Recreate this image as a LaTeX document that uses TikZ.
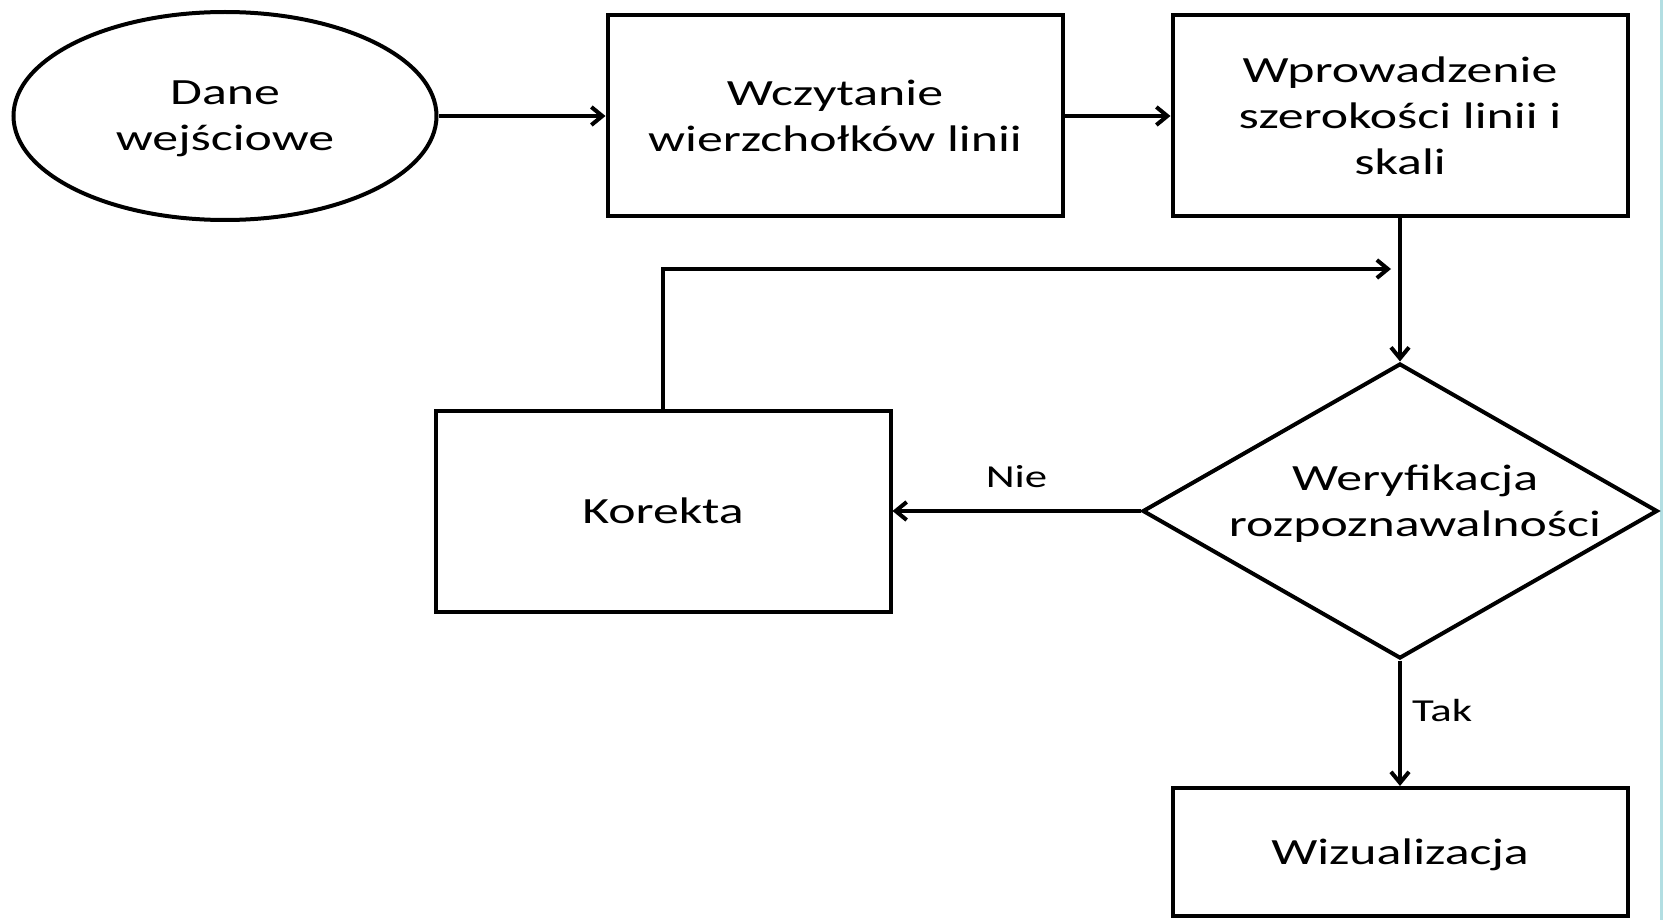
\documentclass[tikz,border=0pt]{standalone}
\usepackage{fontspec}
\setmainfont{Carlito}[FakeStretch=1.40]
\usetikzlibrary{shapes.geometric,arrows.meta}
\definecolor{edgeteal}{RGB}{178,222,226}
\tikzset{
  every node/.style={font=\fontsize{37}{46}\selectfont, align=center, inner sep=0pt},
  boxnode/.style={draw, rectangle, line width=4pt, minimum width=455pt, minimum height=201pt},
  ovalnode/.style={draw, ellipse, line width=4pt, minimum width=423pt, minimum height=208pt},
  dianode/.style={draw, diamond, line width=4pt, minimum width=515pt, minimum height=295pt},
  conn/.style={line width=4pt, -{Straight Barb[length=11pt,width=18pt,line width=4pt]}},
  lbl/.style={font=\fontsize{32}{40}\selectfont}
}
\begin{document}
\begin{tikzpicture}[x=1pt,y=-1pt]
\useasboundingbox (0,0) rectangle (1663,920);
\fill[white] (0,0) rectangle (1663,920);
\fill[edgeteal] (1660,0) rectangle (1663,920);

\node[ovalnode] (dane) at (225,116) {};
\node (danet) at (225,119) {Dane\\wejściowe};
\node[boxnode] (wcz) at (835,116) {Wczytanie\\wierzchołków linii};
\node[boxnode] (wpr) at (1400,116) {Wprowadzenie\\szerokości linii i\\skali};
\node[dianode] (wer) at (1400,511) {};
\node (wert) at (1415,504) {Weryfikacja\\rozpoznawalności};
\node[boxnode] (kor) at (663,511) {Korekta};
\node[boxnode, minimum height=128pt, text depth=0pt] (wiz) at (1400,852) {Wizualizacja};
\coordinate (fb) at (1391,269);

\draw[conn] (dane.east) -- (wcz.west);
\draw[conn] (wcz.east) -- (wpr.west);
\draw[conn] (wpr.south) -- (wer.north);
\draw[conn] (wer.west) -- node[lbl, above=21pt] (nie) {Nie} (kor.east);
\draw[conn] (wer.south) -- node[lbl, right=10pt, pos=0.4] (tak) {Tak} (wiz.north);
\draw[conn] (kor.north) |- (fb);
\end{tikzpicture}
\end{document}
